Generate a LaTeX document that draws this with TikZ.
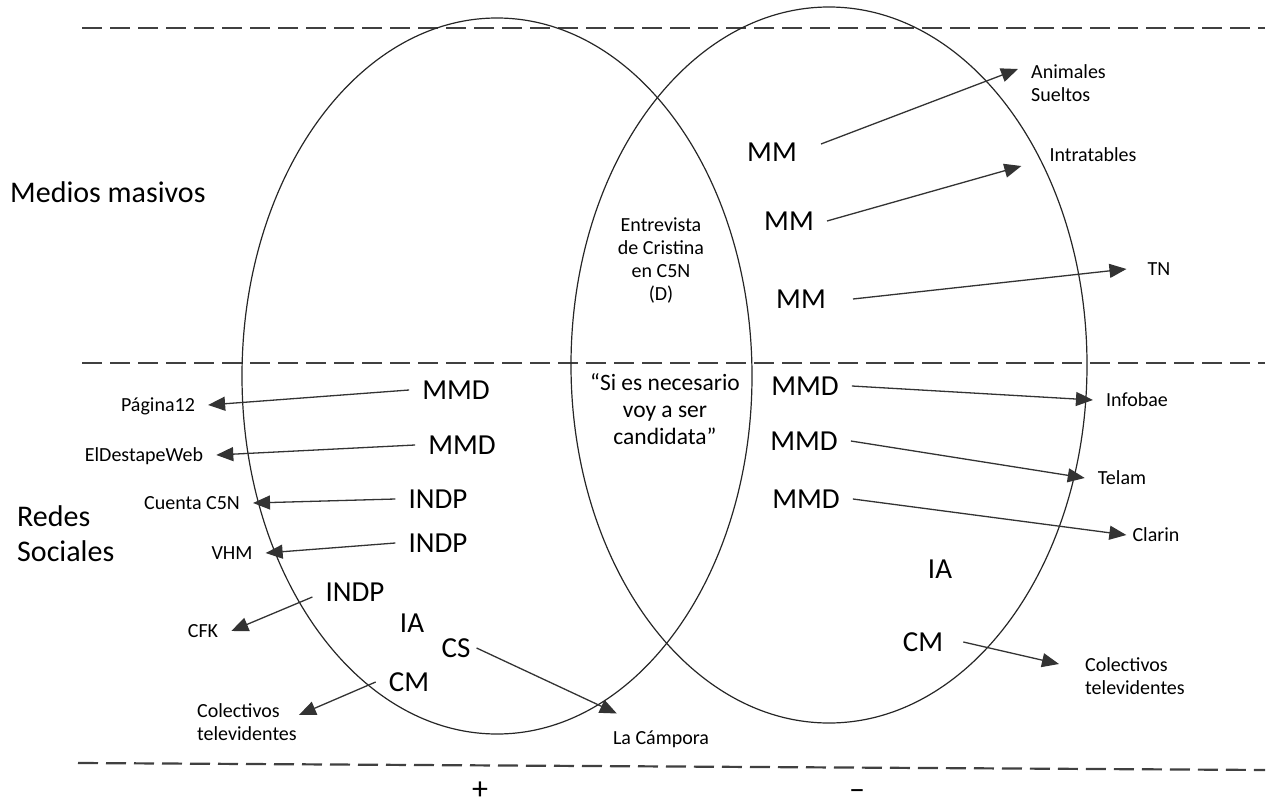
\documentclass[tikz,border=0pt]{standalone}
\usepackage{fontspec}
\setmainfont{Carlito}
\usepackage{tikz}
\usetikzlibrary{arrows.meta}

\begin{document}
\begin{tikzpicture}[x=1pt, y=-1pt,
    big/.style={font=\fontsize{29}{34}\selectfont, text height=18.3pt, text depth=0pt, inner xsep=13pt, inner ysep=4pt},
    small/.style={font=\fontsize{20}{23}\selectfont, text height=12.6pt, text depth=0pt, inner xsep=13pt, inner ysep=4pt},
    multi/.style={font=\fontsize{20}{23}\selectfont, inner sep=0pt},
    title/.style={font=\fontsize{30}{35}\selectfont, align=left, anchor=west, inner sep=0pt},
    sign/.style={font=\fontsize{32}{36}\selectfont, inner sep=0pt, anchor=base},
    arr/.style={-{Triangle[length=17pt,width=14pt]}, line width=1.3pt, draw=black!80},
    divider/.style={line width=2.2pt, draw=black!75, dash pattern=on 20pt off 8pt},
    venn/.style={line width=1.2pt, draw=black!85}]
  \useasboundingbox (0,0) rectangle (1269,808);

  \draw[divider] (82,28) -- (1265,28);
  \draw[divider] (82,363) -- (1265,363);
  \draw[divider] (78,763) -- (1265,770);

  \draw[venn] (497,376) ellipse [x radius=255pt, y radius=358pt];
  \draw[venn] (829,365) ellipse [x radius=258pt, y radius=358pt];

  \node[title] (medios) at (10,192) {Medios masivos};
  \node[title] (redes) at (17,534) {Redes\\Sociales};

  \node[multi, align=center] (entrevista) at (661,261) {Entrevista\\de Cristina\\en C5N\\(D)};
  \node[multi, align=center, font=\fontsize{23.5}{26.7}\selectfont] (cita) at (665,409) {“Si es necesario\\voy a ser\\candidata”};

  % medios masivos
  \node[big] (mmA) at (772,152) {MM};
  \node[big] (mmB) at (789,221) {MM};
  \node[big] (mmC) at (801,299) {MM};
  \node[multi, align=left, anchor=west] (animales) at (1031,83) {Animales\\Sueltos};
  \node[small] (intratables) at (1093,155) {Intratables};
  \node[small] (tn) at (1159,269) {TN};

  % redes sociales, lado derecho
  \node[big] (rmmdA) at (805,386) {MMD};
  \node[big] (rmmdB) at (804,441) {MMD};
  \node[big] (rmmdC) at (806,499) {MMD};
  \node[big] (iaR) at (940,569) {IA};
  \node[big] (cmR) at (923,642) {CM};
  \node[small] (infobae) at (1137,400) {Infobae};
  \node[small] (telam) at (1122,478) {Telam};
  \node[small] (clarin) at (1156,535) {Clarin};
  \node[multi, align=left, anchor=west] (colR) at (1085,676) {Colectivos\\televidentes};

  % redes sociales, lado izquierdo
  \node[big] (lmmdA) at (456,390) {MMD};
  \node[big] (lmmdB) at (462,445) {MMD};
  \node[big] (indpA) at (438,499) {INDP};
  \node[big] (indpB) at (438,543) {INDP};
  \node[big] (indpC) at (355,592) {INDP};
  \node[big] (iaL) at (412,623) {IA};
  \node[big] (csL) at (456,648) {CS};
  \node[big] (cmL) at (409,682) {CM};
  \node[small] (pagina) at (158,405) {Página12};
  \node[small] (destape) at (144,455) {ElDestapeWeb};
  \node[small] (cuenta) at (192,503) {Cuenta C5N};
  \node[small] (vhm) at (232,553) {VHM};
  \node[small] (cfk) at (203,631) {CFK};
  \node[small] (campora) at (661,738) {La Cámpora};
  \node[multi, align=left, anchor=west] (colL) at (197,722) {Colectivos\\televidentes};

  \node[sign] (mas) at (480,799) {+};
  \node[sign] (menos) at (857,799) {–};

  \draw[arr] ([xshift=11,yshift=8]mmA.east) -- ([xshift=-13,yshift=14]animales.west);
  \draw[arr] (mmB.east) -- ([xshift=-15,yshift=-11]intratables.west);
  \draw[arr] ([xshift=14]mmC.east) -- ([xshift=-8]tn.west);
  \draw[arr] (rmmdA.east) -- (infobae.west);
  \draw[arr] (rmmdB.east) -- (telam.west);
  \draw[arr] (rmmdC.east) -- ([xshift=7]clarin.west);
  \draw[arr] ([xshift=7]cmR.east) -- ([xshift=-26,yshift=12]colR.west);

  \draw[arr] (lmmdA.west) -- (pagina.east);
  \draw[arr] (lmmdB.west) -- (destape.east);
  \draw[arr] (indpA.west) -- (cuenta.east);
  \draw[arr] (indpB.west) -- (vhm.east);
  \draw[arr] ([yshift=-5]indpC.west) -- (cfk.east);
  \draw[arr] ([xshift=-7]csL.east) -- ([xshift=17,yshift=14]campora.north west);
  \draw[arr] (cmL.west) -- ([xshift=2,yshift=7]colL.east);
\end{tikzpicture}
\end{document}
